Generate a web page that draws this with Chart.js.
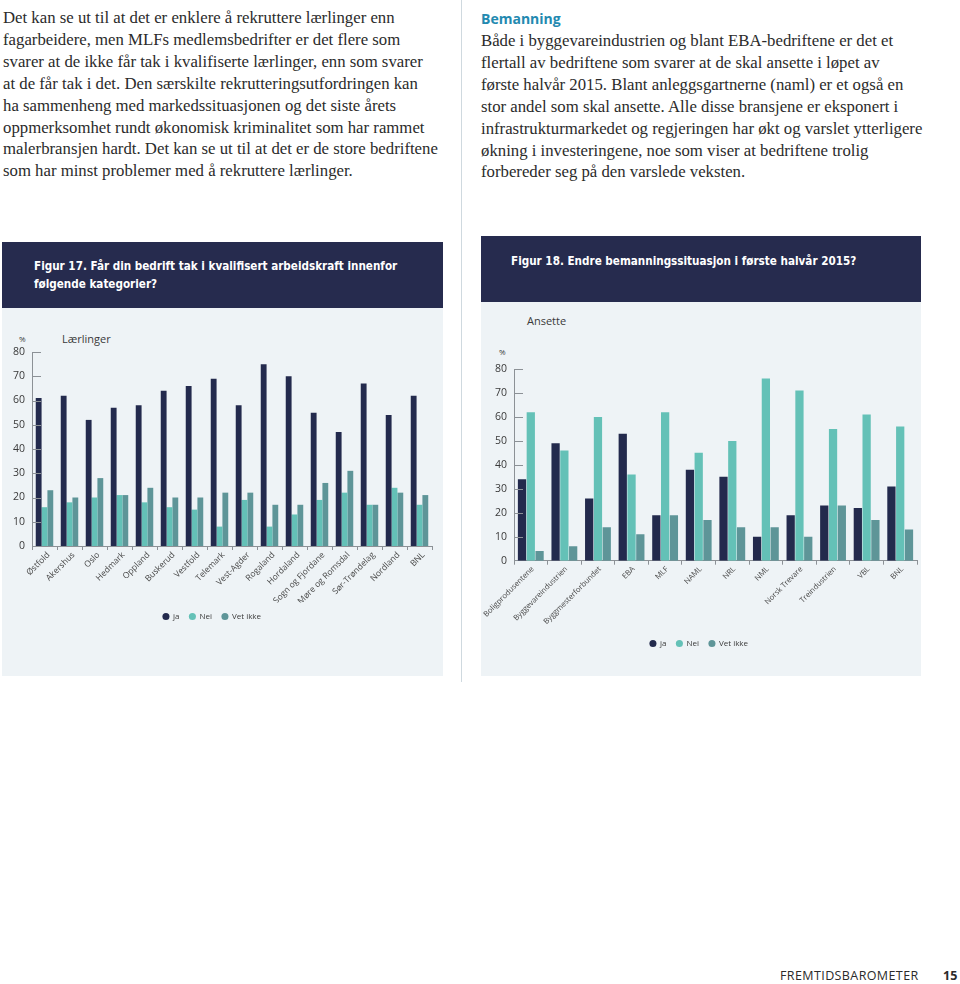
<!DOCTYPE html>
<html lang="no">
<head>
<meta charset="utf-8">
<script src="https://cdn.jsdelivr.net/npm/chart.js@4"></script>
<style>
  html, body { margin: 0; padding: 0; background: #ffffff; }
  body { width: 960px; height: 984px; position: relative; overflow: hidden; }
  .txt { position: absolute; font-family: "Liberation Serif", "DejaVu Serif", serif; font-size: 16.75px; line-height: 21.9px; color: #2b2b2b; white-space: nowrap; }
  .sep { position: absolute; left: 461px; top: 0; width: 1px; height: 682px; background: #cfd9df; }
  .hdr { position: absolute; background: #262b4e; color: #ffffff; font-family: "DejaVu Sans Condensed", "Liberation Sans Narrow", sans-serif; font-weight: bold; font-size: 11.6px; line-height: 18px; box-sizing: border-box; }
  .panel { position: absolute; background: #eef3f6; }
  .lbl { position: absolute; font-family: "Open Sans", sans-serif; color: #3a3a3a; white-space: nowrap; }
  canvas { position: absolute; }
</style>
</head>
<body>
<div class="txt" style="left:3px; top:7px;">
Det kan se ut til at det er enklere å rekruttere lærlinger enn<br>
fagarbeidere, men MLFs medlemsbedrifter er det flere som<br>
svarer at de ikke får tak i kvalifiserte lærlinger, enn som svarer<br>
at de får tak i det. Den særskilte rekrutteringsutfordringen kan<br>
ha sammenheng med markedssituasjonen og det siste årets<br>
oppmerksomhet rundt økonomisk kriminalitet som har rammet<br>
malerbransjen hardt. Det kan se ut til at det er de store bedriftene<br>
som har minst problemer med å rekruttere lærlinger.
</div>
<div class="sep"></div>
<div style="position:absolute; left:481px; top:8px; font-family:'Open Sans', sans-serif; font-weight:bold; font-size:14px; line-height:22px; color:#2389b0;">Bemanning</div>
<div class="txt" style="left:481px; top:30px;">
Både i byggevareindustrien og blant EBA-bedriftene er det et<br>
flertall av bedriftene som svarer at de skal ansette i løpet av<br>
første halvår 2015. Blant anleggsgartnerne (naml) er et også en<br>
stor andel som skal ansette. Alle disse bransjene er eksponert i<br>
infrastrukturmarkedet og regjeringen har økt og varslet ytterligere<br>
økning i investeringene, noe som viser at bedriftene trolig<br>
forbereder seg på den varslede veksten.
</div>

<div class="hdr" style="left:2px; top:242px; width:441px; height:66px; padding:15px 0 0 32px;">Figur 17. Får din bedrift tak i kvalifisert arbeidskraft innenfor<br>følgende kategorier?</div>
<div class="panel" style="left:2px; top:308px; width:441px; height:368px;"></div>
<div class="lbl" style="left:19px; top:333px; font-size:8px;">%</div>
<div class="lbl" style="left:62px; top:331px; font-size:11px;">Lærlinger</div>
<canvas id="c1" width="441" height="368" style="left:2px; top:308px; width:441px; height:368px;"></canvas>

<div class="hdr" style="left:481px; top:236px; width:440px; height:66px; padding:16px 0 0 30px;">Figur 18. Endre bemanningssituasjon i første halvår 2015?</div>
<div class="panel" style="left:481px; top:302px; width:440px; height:374px;"></div>
<div class="lbl" style="left:527px; top:313px; font-size:11px;">Ansette</div>
<div class="lbl" style="left:499px; top:346px; font-size:8px;">%</div>
<canvas id="c2" width="440" height="374" style="left:481px; top:302px; width:440px; height:374px;"></canvas>

<div style="position:absolute; left:780px; top:967px; font-family:'Open Sans', sans-serif; font-size:12.5px; color:#2b2b2b; letter-spacing:0.4px;">FREMTIDSBAROMETER</div>
<div style="position:absolute; left:943px; top:967px; font-family:'Open Sans', sans-serif; font-size:12.5px; font-weight:bold; color:#2b2b2b;">15</div>

<script>
// ---------- Figur 17 data ----------
const regions = ["Østfold", "Akershus", "Oslo", "Hedmark", "Oppland", "Buskerud", "Vestfold", "Telemark", "Vest-Agder", "Rogaland", "Hordaland", "Sogn og Fjordane", "Møre og Romsdal", "Sør-Trøndelag", "Nordland", "BNL"];
const laerlingerJa = [61, 62, 52, 57, 58, 64, 66, 69, 58, 75, 70, 55, 47, 67, 54, 62];
const laerlingerNei = [16, 18, 20, 21, 18, 16, 15, 8, 19, 8, 13, 19, 22, 17, 24, 17];
const laerlingerVetIkke = [23, 20, 28, 21, 24, 20, 20, 22, 22, 17, 17, 26, 31, 17, 22, 21];

// ---------- Figur 18 data ----------
const bransjer = ["Boligprodusentene", "Byggevareindustrien", "Byggmesterforbundet", "EBA", "MLF", "NAML", "NRL", "NML", "Norsk Trevare", "Treindustrien", "VBL", "BNL"];
const ansetteJa = [34, 49, 26, 53, 19, 38, 35, 10, 19, 23, 22, 31];
const ansetteNei = [62, 46, 60, 36, 62, 45, 50, 76, 71, 55, 61, 56];
const ansetteVetIkke = [4, 6, 14, 11, 19, 17, 14, 14, 10, 23, 17, 13];

const seriesNames = ["ja", "Nei", "Vet ikke"];
const yTicks = [0, 10, 20, 30, 40, 50, 60, 70, 80];

const COL_JA = "#232a4d";
const COL_NEI = "#64c1b7";
const COL_VET = "#5e9598";
const AXIS = "#8c9196";

const innerTicks = {
  id: "innerTicks",
  afterDatasetsDraw(chart) {
    const y = chart.scales.y, a = chart.chartArea, ctx = chart.ctx;
    ctx.save();
    ctx.strokeStyle = AXIS;
    ctx.lineWidth = 1;
    yTicks.forEach(v => {
      if (v === 0) return;
      const py = Math.round(y.getPixelForValue(v)) + 0.5;
      ctx.beginPath();
      ctx.moveTo(a.left, py);
      ctx.lineTo(a.left + 9, py);
      ctx.stroke();
    });
    ctx.restore();
  }
};

function makeChart(id, labels, ja, nei, vet, cfg) {
  const legendShift = {
    id: "legendShift",
    afterLayout(chart) {
      if (chart.legend && cfg.legendDx) {
        chart.legend.left += cfg.legendDx;
        chart.legend.right += cfg.legendDx;
      }
    }
  };
  return new Chart(document.getElementById(id), {
    type: "bar",
    data: {
      labels: labels,
      datasets: [
        { label: seriesNames[0], data: ja, backgroundColor: COL_JA, pointStyle: "circle" },
        { label: seriesNames[1], data: nei, backgroundColor: COL_NEI, pointStyle: "circle" },
        { label: seriesNames[2], data: vet, backgroundColor: COL_VET, pointStyle: "circle" }
      ]
    },
    options: {
      responsive: false,
      animation: false,
      events: [],
      datasets: { bar: { categoryPercentage: cfg.catPct, barPercentage: cfg.barPct, borderWidth: 0 } },
      layout: { padding: cfg.padding },
      plugins: {
        tooltip: { enabled: false },
        legend: {
          position: "bottom",
          labels: {
            usePointStyle: true, pointStyle: "circle", boxWidth: 6, boxHeight: 5,
            padding: 10, color: "#3a3a3a",
            font: { family: "Open Sans", size: 8 }
          }
        }
      },
      scales: {
        x: {
          grid: { display: true, drawOnChartArea: false, drawTicks: true, tickLength: 4, color: AXIS, offset: true },
          border: { display: true, color: AXIS, width: 1 },
          ticks: {
            autoSkip: false, maxRotation: 45, minRotation: 45, padding: 0, labelOffset: cfg.labelOffset,
            color: "#4a4a4a", font: { family: "Open Sans", size: cfg.xFont }
          },
          afterFit(scale) { scale.height = cfg.xHeight; scale.paddingLeft = 0; scale.paddingRight = 0; }
        },
        y: {
          min: 0, max: 80,
          afterBuildTicks(scale) { scale.ticks = yTicks.map(v => ({ value: v })); },
          grid: { display: false, drawTicks: false, tickLength: 0 },
          border: { display: true, color: AXIS, width: 1 },
          ticks: { padding: 7, color: "#3a3a3a", font: { family: "Open Sans", size: 10.5 } },
          afterFit(scale) { scale.width = cfg.yWidth; }
        }
      }
    },
    plugins: [innerTicks, legendShift]
  });
}

makeChart("c1", regions, laerlingerJa, laerlingerNei, laerlingerVetIkke, {
  catPct: 0.7, barPct: 1.0, xFont: 8.5, xHeight: 56.5, yWidth: 30, labelOffset: 4, legendDx: -5,
  padding: { top: 44, right: 11, left: 0, bottom: 45.5 }
});
makeChart("c2", bransjer, ansetteJa, ansetteNei, ansetteVetIkke, {
  catPct: 0.785, barPct: 0.94, xFont: 7.6, xHeight: 68.8, yWidth: 33, labelOffset: 2, legendDx: 0,
  padding: { top: 67, right: 4, left: 0, bottom: 18.5 }
});
</script>
</body>
</html>
